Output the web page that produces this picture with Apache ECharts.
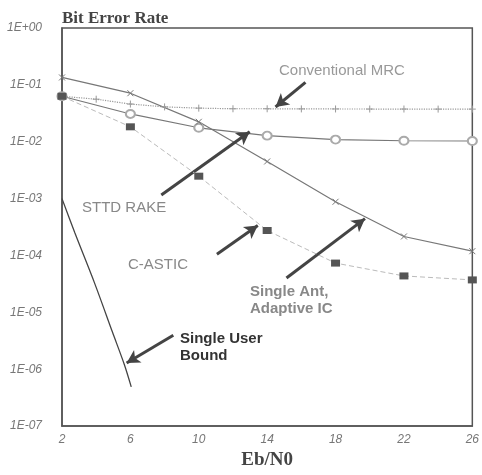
<!DOCTYPE html>
<html>
<head>
<meta charset="utf-8">
<script src="https://cdn.jsdelivr.net/npm/echarts@6/dist/echarts.min.js"></script>
<style>
  html, body { margin: 0; padding: 0; background: #fff; }
  #chart { width: 482px; height: 475px; }
</style>
</head>
<body>
<div id="chart"></div>
<script>
// values (Eb/N0 in dB, BER)
var ebnoTicks = [2, 6, 10, 14, 18, 22, 26];
var ebno = [2, 6, 10, 14, 18, 22, 26];
var ebnoMrc = [2, 4, 6, 8, 10, 12, 14, 16, 18, 20, 22, 24, 26];
var berMrc = [0.063, 0.056, 0.046, 0.041, 0.039, 0.038, 0.038, 0.0378, 0.0377, 0.0376, 0.0376, 0.0375, 0.0375];
var berSttd = [0.063, 0.0308, 0.0176, 0.0128, 0.0109, 0.0104, 0.0103];
var berSingleAnt = [0.135, 0.0714, 0.0224, 0.0045, 0.00088, 0.000216, 0.000119];
var berCastic = [0.063, 0.0183, 0.00248, 0.000275, 0.0000735, 0.0000437, 0.0000372];
var ebnoBound = [2, 2.75, 3.9, 4.95, 5.65, 6.05];
var berBound = [1e-3, 2.5e-4, 3.3e-5, 4.5e-6, 1.2e-6, 4.9e-7];

// annotation arrows: [from, to] in data coordinates
var arrows = [
  [[16.24, 0.111], [14.49, 0.0408]],      // Conventional MRC
  [[7.81, 1.16e-3], [12.98, 0.015]],      // STTD RAKE
  [[11.06, 1.05e-4], [13.45, 3.36e-4]],   // C-ASTIC
  [[15.13, 4.03e-5], [19.72, 4.44e-4]],   // Single Ant
  [[8.51, 3.96e-6], [5.78, 1.29e-6]]      // Single User Bound
];

function pairs(xs, ys) {
  return xs.map(function (x, i) { return [x, ys[i]]; });
}

var plusSym = 'path://M0,5L10,5M5,0L5,10';
var crossSym = 'path://M0,0L10,10M10,0L0,10';

var chart = echarts.init(document.getElementById('chart'), null, { renderer: 'canvas' });

var option = {
  animation: false,
  backgroundColor: '#fff',
  title: {
    text: 'Bit Error Rate',
    left: 57,
    top: 5,
    textStyle: { fontFamily: 'Liberation Serif', fontWeight: 'bold', fontSize: 17, color: '#444' }
  },
  grid: {
    left: 62, right: 7, top: 28, bottom: 44,
    show: true, borderColor: '#555', borderWidth: 1.5, backgroundColor: 'transparent'
  },
  xAxis: {
    type: 'value',
    min: 2, max: 26,
    name: 'Eb/N0',
    nameLocation: 'middle',
    nameGap: 24,
    nameTextStyle: { fontFamily: 'Liberation Serif', fontWeight: 'bold', fontSize: 19, color: '#444' },
    axisLine: { show: true, lineStyle: { color: '#555', width: 1.5 } },
    axisTick: { show: false },
    splitLine: { show: false },
    axisLabel: {
      customValues: ebnoTicks,
      margin: 8,
      fontFamily: 'Liberation Sans', fontStyle: 'italic', fontSize: 12, color: '#777'
    }
  },
  yAxis: {
    type: 'log',
    logBase: 10,
    min: 1e-7, max: 1,
    axisLine: { show: true, lineStyle: { color: '#555', width: 1.5 } },
    axisTick: { show: false },
    splitLine: { show: false },
    axisLabel: {
      margin: 20,
      fontFamily: 'Liberation Sans', fontStyle: 'italic', fontSize: 12, color: '#777',
      formatter: function (v) {
        var e = Math.round(Math.log10(v));
        var s = Math.abs(e) < 10 ? '0' + Math.abs(e) : '' + Math.abs(e);
        return '1E' + (e >= 0 ? '+' : '-') + s;
      }
    }
  },
  series: [
    {
      name: 'Single User Bound',
      type: 'line',
      data: pairs(ebnoBound, berBound),
      smooth: 0.3,
      showSymbol: false,
      lineStyle: { color: '#444', width: 1.3 }
    },
    {
      name: 'Conventional MRC',
      type: 'line',
      data: pairs(ebnoMrc, berMrc),
      symbol: plusSym,
      symbolSize: 7,
      itemStyle: { color: 'transparent', borderColor: '#999', borderWidth: 1 },
      lineStyle: { color: '#999', width: 1.2, type: 'dotted' }
    },
    {
      name: 'STTD RAKE',
      type: 'line',
      data: pairs(ebno, berSttd),
      symbol: 'emptyCircle',
      symbolSize: [9, 8],
      itemStyle: { color: '#aaa', borderWidth: 1 },
      lineStyle: { color: '#777', width: 1.2 }
    },
    {
      name: 'Single Ant, Adaptive IC',
      type: 'line',
      data: pairs(ebno, berSingleAnt),
      symbol: crossSym,
      symbolSize: 6,
      itemStyle: { color: 'transparent', borderColor: '#777', borderWidth: 1 },
      lineStyle: { color: '#777', width: 1.2 }
    },
    {
      name: 'C-ASTIC',
      type: 'line',
      z: 5,
      data: pairs(ebno, berCastic),
      symbol: 'rect',
      symbolSize: [9, 7],
      itemStyle: { color: '#555' },
      lineStyle: { color: '#bbb', width: 1, type: [5, 3] }
    },
    {
      name: 'arrows',
      type: 'line',
      z: 6,
      data: [],
      markLine: {
        silent: true,
        symbol: ['none', 'arrow'],
        symbolSize: [11, 13],
        label: { show: false },
        lineStyle: { color: '#444', width: 3, type: 'solid' },
        data: arrows.map(function (a) {
          return [{ coord: a[0] }, { coord: a[1] }];
        })
      }
    }
  ],
  graphic: [
    { type: 'text', left: 279, top: 63, style: { text: 'Conventional MRC', font: '15px "Liberation Sans"', fill: '#999' } },
    { type: 'text', left: 82, top: 200, style: { text: 'STTD RAKE', font: '15px "Liberation Sans"', fill: '#888' } },
    { type: 'text', left: 128, top: 257, style: { text: 'C-ASTIC', font: '15px "Liberation Sans"', fill: '#888' } },
    { type: 'text', left: 250, top: 283, style: { text: 'Single Ant,\nAdaptive IC', font: 'bold 15px "Liberation Sans"', fill: '#888', lineHeight: 17 } },
    { type: 'text', left: 180, top: 330, style: { text: 'Single User\nBound', font: 'bold 15px "Liberation Sans"', fill: '#333', lineHeight: 17 } }
  ]
};

chart.setOption(option);
</script>
</body>
</html>
